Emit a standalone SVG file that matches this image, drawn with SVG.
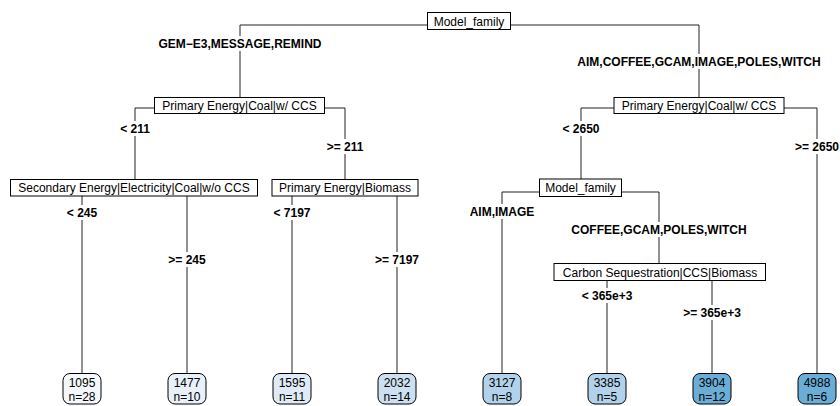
<svg xmlns="http://www.w3.org/2000/svg" width="840" height="406" viewBox="0 0 840 406">
<style>
.e{stroke:#222;stroke-width:1;fill:none}
.bg{fill:#fff}
.lab{font-family:"Liberation Sans",Arial,sans-serif;font-size:12px;font-weight:bold;fill:#000;text-anchor:middle}
.nb{fill:#fff;stroke:#000;stroke-width:1}
.nt{font-family:"Liberation Sans",Arial,sans-serif;font-size:12px;fill:#000;text-anchor:middle}
.lf{stroke:#000;stroke-width:1}
</style>
<rect width="840" height="406" fill="#fff"/>
<g id="connectors">
<path class="e" d="M240,97V25H699V97"/>
<path class="e" d="M135,179V108H345V179"/>
<path class="e" d="M82,373V190H187V373"/>
<path class="e" d="M292,373V190H397V373"/>
<path class="e" d="M581,179V108H817V373"/>
<path class="e" d="M502,373V192H659V263"/>
<path class="e" d="M607,373V275H712V373"/>
<rect class="bg" x="155" y="36" width="170" height="15"/>
<text class="lab" x="240" y="48">GEM−E3,MESSAGE,REMIND</text>
<rect class="bg" x="573" y="54" width="252" height="15"/>
<text class="lab" x="699" y="66">AIM,COFFEE,GCAM,IMAGE,POLES,WITCH</text>
<rect class="bg" x="117" y="121" width="36" height="15"/>
<text class="lab" x="135" y="133">&lt; 211</text>
<rect class="bg" x="325" y="139" width="40" height="15"/>
<text class="lab" x="345" y="151">&gt;= 211</text>
<rect class="bg" x="64" y="205" width="36" height="15"/>
<text class="lab" x="82" y="217">&lt; 245</text>
<rect class="bg" x="167" y="252" width="40" height="15"/>
<text class="lab" x="187" y="264">&gt;= 245</text>
<rect class="bg" x="271" y="205" width="42" height="15"/>
<text class="lab" x="292" y="217">&lt; 7197</text>
<rect class="bg" x="373" y="252" width="48" height="15"/>
<text class="lab" x="397" y="264">&gt;= 7197</text>
<rect class="bg" x="560" y="121" width="42" height="15"/>
<text class="lab" x="581" y="133">&lt; 2650</text>
<rect class="bg" x="793" y="139" width="47" height="15"/>
<text class="lab" x="817" y="151">&gt;= 2650</text>
<rect class="bg" x="468" y="204" width="68" height="15"/>
<text class="lab" x="502" y="216">AIM,IMAGE</text>
<rect class="bg" x="568" y="222" width="183" height="15"/>
<text class="lab" x="659" y="234">COFFEE,GCAM,POLES,WITCH</text>
<rect class="bg" x="579" y="288" width="56" height="15"/>
<text class="lab" x="607" y="300">&lt; 365e+3</text>
<rect class="bg" x="681" y="305" width="62" height="15"/>
<text class="lab" x="712" y="317">&gt;= 365e+3</text>
</g>
<g id="n1"><rect class="nb" x="427.5" y="12.5" width="83" height="17"/><text class="nt" x="469" y="25.5">Model_family</text></g>
<g id="n2"><rect class="nb" x="154.5" y="97.5" width="170" height="16"/><text class="nt" x="239.5" y="110">Primary Energy|Coal|w/ CCS</text></g>
<g id="n3"><rect class="nb" x="10.5" y="179.5" width="247" height="16.5"/><text class="nt" x="134" y="192">Secondary Energy|Electricity|Coal|w/o CCS</text></g>
<g id="n4"><rect class="nb" x="272" y="179.5" width="146" height="16.5"/><text class="nt" x="345" y="192">Primary Energy|Biomass</text></g>
<g id="n5"><rect class="nb" x="614" y="97.5" width="170" height="16"/><text class="nt" x="699" y="110">Primary Energy|Coal|w/ CCS</text></g>
<g id="n6"><rect class="nb" x="539.5" y="179" width="82" height="17.5"/><text class="nt" x="580.5" y="192">Model_family</text></g>
<g id="n7"><rect class="nb" x="554" y="263.5" width="211.5" height="17"/><text class="nt" x="660" y="276.5">Carbon Sequestration|CCS|Biomass</text></g>
<g id="leaf1"><rect class="lf" x="63" y="373.5" width="38" height="30.5" rx="7" fill="#f4f8fd"/><text class="nt" x="82" y="386.5">1095</text><text class="nt" x="82" y="401">n=28</text></g>
<g id="leaf2"><rect class="lf" x="168" y="373.5" width="38" height="30.5" rx="7" fill="#e8f1fa"/><text class="nt" x="187" y="386.5">1477</text><text class="nt" x="187" y="401">n=10</text></g>
<g id="leaf3"><rect class="lf" x="273" y="373.5" width="38" height="30.5" rx="7" fill="#dfeaf6"/><text class="nt" x="292" y="386.5">1595</text><text class="nt" x="292" y="401">n=11</text></g>
<g id="leaf4"><rect class="lf" x="378" y="373.5" width="38" height="30.5" rx="7" fill="#cde0f1"/><text class="nt" x="397" y="386.5">2032</text><text class="nt" x="397" y="401">n=14</text></g>
<g id="leaf5"><rect class="lf" x="483" y="373.5" width="38" height="30.5" rx="7" fill="#b1d2ea"/><text class="nt" x="502" y="386.5">3127</text><text class="nt" x="502" y="401">n=8</text></g>
<g id="leaf6"><rect class="lf" x="588" y="373.5" width="38" height="30.5" rx="7" fill="#b1d2ea"/><text class="nt" x="607" y="386.5">3385</text><text class="nt" x="607" y="401">n=5</text></g>
<g id="leaf7"><rect class="lf" x="693" y="373.5" width="38" height="30.5" rx="7" fill="#6aaed7"/><text class="nt" x="712" y="386.5">3904</text><text class="nt" x="712" y="401">n=12</text></g>
<g id="leaf8"><rect class="lf" x="798" y="373.5" width="38" height="30.5" rx="7" fill="#6aaed7"/><text class="nt" x="817" y="386.5">4988</text><text class="nt" x="817" y="401">n=6</text></g>
</svg>
